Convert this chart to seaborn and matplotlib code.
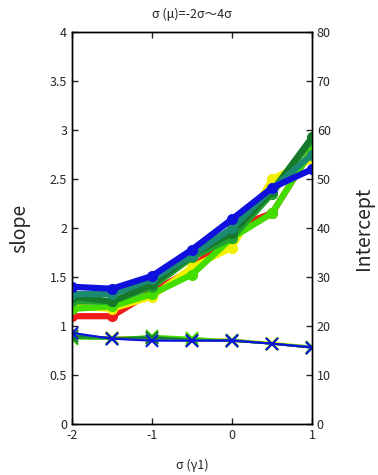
import numpy as np
import pandas as pd
import matplotlib
matplotlib.use("Agg")
import matplotlib.pyplot as plt
import seaborn as sns

# x positions: sigma(gamma1)
x_vals = [-2, -1.5, -1, -0.5, 0, 0.5, 1]

# intercept curves (right axis, circles)
icpt_red = [22.0, 22.0, 27.0, 31.5, 40.0, 43.0, 56.0]
icpt_yellow = [24.0, 23.5, 26.0, 32.0, 36.0, 50.0, 54.0]
icpt_lime = [23.5, 24.0, 26.5, 30.5, 38.0, 43.0, 56.0]
icpt_green = [25.0, 25.0, 28.0, 34.0, 38.0, 47.0, 58.0]
icpt_dkgreen = [26.0, 25.0, 28.5, 34.5, 39.0, 47.5, 58.5]
icpt_teal = [26.5, 26.5, 29.5, 34.5, 40.0, 48.0, 55.0]
icpt_blue = [28.0, 27.6, 30.2, 35.6, 41.8, 48.2, 52.0]

# slope curves (left axis, x markers)
slope_red = [0.90, 0.88, 0.88, 0.86, 0.86, 0.82, 0.78]
slope_yellow = [0.88, 0.88, 0.89, 0.87, 0.86, 0.83, 0.79]
slope_lime = [0.87, 0.87, 0.90, 0.88, 0.85, 0.82, 0.78]
slope_green = [0.88, 0.87, 0.89, 0.86, 0.85, 0.82, 0.78]
slope_dkgreen = [0.90, 0.88, 0.88, 0.86, 0.85, 0.82, 0.78]
slope_teal = [0.92, 0.87, 0.86, 0.85, 0.86, 0.82, 0.79]
slope_blue = [0.93, 0.87, 0.85, 0.85, 0.85, 0.82, 0.78]

series_names = ["r", "y", "lime", "g", "dg", "teal", "b"]
colors = ["#ee1c1c", "#f0f000", "#44dd00", "#22a030", "#16782a", "#1a8a70", "#1010dd"]
icpt_all = [icpt_red, icpt_yellow, icpt_lime, icpt_green, icpt_dkgreen, icpt_teal, icpt_blue]
slope_all = [slope_red, slope_yellow, slope_lime, slope_green, slope_dkgreen, slope_teal, slope_blue]

icpt_df = pd.DataFrame([(n, x, v) for n, ys in zip(series_names, icpt_all) for x, v in zip(x_vals, ys)],
                       columns=["series", "x", "value"])
slope_df = pd.DataFrame([(n, x, v) for n, ys in zip(series_names, slope_all) for x, v in zip(x_vals, ys)],
                        columns=["series", "x", "value"])

sns.set_style("ticks")
plt.rcParams['font.family'] = ['Noto Sans CJK JP', 'DejaVu Sans']
plt.rcParams['xtick.direction'] = 'in'
plt.rcParams['ytick.direction'] = 'in'

fig = plt.figure(figsize=(3.78, 4.75), dpi=100)
ax = fig.add_axes([0.1905, 0.1074, 0.6349, 0.8252])
ax2 = ax.twinx()

pal = dict(zip(series_names, colors))

sns.lineplot(data=slope_df, x="x", y="value", hue="series", palette=pal, ax=ax,
             marker="x", markersize=9, markeredgewidth=1.3, linewidth=1.5, legend=False)
sns.lineplot(data=icpt_df, x="x", y="value", hue="series", palette=pal, ax=ax2,
             marker="o", markersize=8, markeredgewidth=0, linewidth=4.5, legend=False)

# seaborn paints marker edges white; use the line colour instead
for a in (ax, ax2):
    for ln in a.lines:
        ln.set_markeredgecolor(ln.get_color())

ax.set_xlim(-2, 1)
ax.set_ylim(0, 4)
ax2.set_ylim(0, 80)
ax.set_xticks([-2, -1, 0, 1])
ax.set_xticklabels(["-2", "-1", "0", "1"])
ax.set_yticks(np.arange(0, 4.01, 0.5))
ax.set_yticklabels(["0", "0.5", "1", "1.5", "2", "2.5", "3", "3.5", "4"])
ax2.set_yticks(np.arange(0, 81, 10))

ax.tick_params(axis="both", labelsize=9, length=4, top=True, width=1)
ax2.tick_params(axis="y", labelsize=9, length=4, width=1)

ax.set_xlabel("σ (γ1)", fontsize=9, labelpad=12)
ax.set_ylabel("slope", fontsize=14, labelpad=14)
ax2.set_ylabel("Intercept", fontsize=14, labelpad=16)
ax.set_title("σ (μ)=-2σ～4σ", fontsize=9, pad=10)

for a in (ax, ax2):
    for s in a.spines.values():
        s.set_linewidth(1)
        s.set_color("black")

fig.savefig("out.png", dpi=100)
